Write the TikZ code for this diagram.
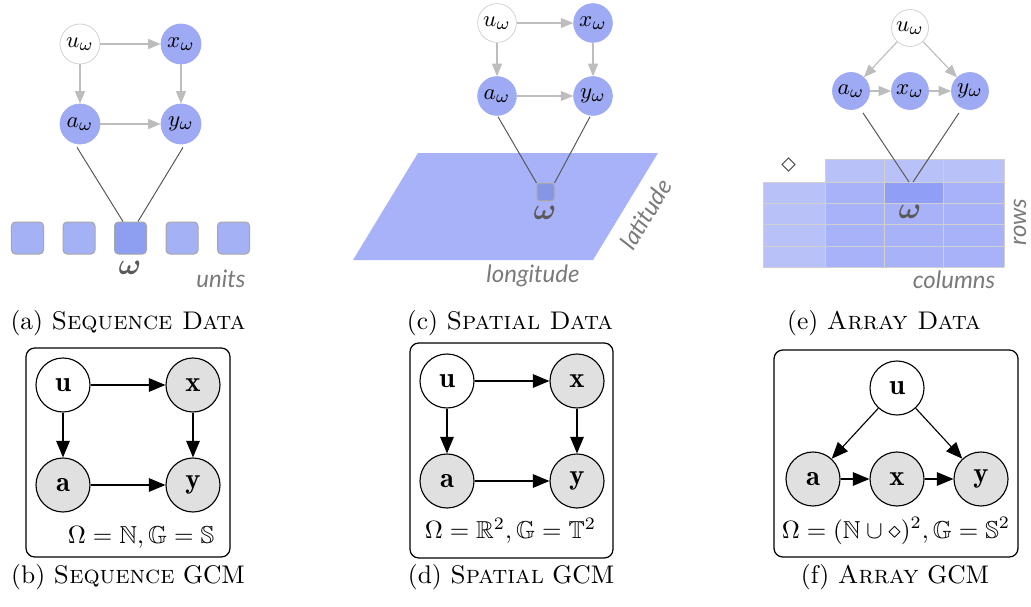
\documentclass[tikz,border=0pt]{standalone}
\usepackage{amsmath,amssymb,bm}
\usepackage{fontspec}
\newfontfamily\lblfont{Lato}
\usetikzlibrary{arrows.meta}
\definecolor{nblue}{HTML}{9EAAF3}
\definecolor{sqblue}{HTML}{A5B1F5}
\definecolor{sqdark}{HTML}{8E9EF0}
\definecolor{plane}{HTML}{A7B2F8}
\definecolor{light}{HTML}{B9C2F8}
\definecolor{cellhi}{HTML}{909FF5}
\definecolor{gline}{HTML}{D0D0D0}
\definecolor{arrgray}{HTML}{BDBDBD}
\definecolor{obsgray}{HTML}{E0E0E0}
\definecolor{lblgray}{HTML}{7A7A7A}
\begin{document}
\begin{tikzpicture}[x=0.4pt,y=-0.4pt,
  topnode/.style={circle, inner sep=0pt, minimum size=16pt, fill=nblue, draw=nblue, line width=0.3pt, font=\fontsize{9.5}{10}\selectfont},
  topwhite/.style={topnode, fill=white, draw=gline},
  toparr/.style={draw=arrgray, line width=0.45pt, -{Triangle[length=5pt,width=4pt]}},
  tie/.style={draw=black!65, line width=0.4pt},
  sq/.style={rectangle, rounded corners=1.6pt, minimum size=12.8pt, inner sep=0pt, fill=sqblue, draw=black!35, line width=0.4pt},
  omg/.style={text=black!65, font=\fontsize{12}{13}\selectfont},
  axlbl/.style={text=lblgray, font=\lblfont\itshape\fontsize{9.6}{11}\selectfont},
  gcm/.style={circle, inner sep=0pt, minimum size=21.6pt, draw=black, line width=0.45pt, fill=white, font=\fontsize{11.5}{12}\selectfont},
  obs/.style={gcm, fill=obsgray},
  garr/.style={draw=black, line width=0.45pt, -{Triangle[length=6.6pt,width=5.4pt]}},
  frame/.style={draw=black, line width=0.5pt, rounded corners=3.5pt},
  captxt/.style={font=\fontsize{10.2}{11}\selectfont},
  eqtxt/.style={font=\fontsize{9.8}{11}\selectfont}
]
\useasboundingbox (0,0) rectangle (1031,606);

% ---------------- (a) Sequence data ----------------
\node[topwhite] (ua) at (80,44) {$u_\omega$};
\node[topnode] (xa) at (181,44) {$x_\omega$};
\node[topnode] (aa) at (80,124) {$a_\omega$};
\node[topnode] (ya) at (181,124) {$y_\omega$};
\draw[toparr] (ua) -- (xa);
\draw[toparr] (ua) -- (aa);
\draw[toparr] (xa) -- (ya);
\draw[toparr] (aa) -- (ya);
\node[sq] (s1) at (27.5,238) {};
\node[sq] (s2) at (79,238) {};
\node[sq, fill=sqdark] (s3) at (130.5,238) {};
\node[sq] (s4) at (182,238) {};
\node[sq] (s5) at (233.5,238) {};
\draw[tie] ([shift={(-3,3)}]aa.south) -- ([xshift=-3pt]s3.north);
\draw[tie] ([shift={(2,3)}]ya.south) -- ([xshift=3pt]s3.north);
\node[omg] (wa) at (130,268) {$\bm{\omega}$};
\node[axlbl] (units) at (221,279) {units};
\node[captxt] (capa) at (128,323) {(a) \textsc{Sequence Data}};

% ---------------- (c) Spatial data ----------------
\fill[plane] (418,153) -- (658,153) -- (593,260) -- (353,260) -- cycle;
\node[topwhite, minimum size=15.5pt] (uc) at (497,23) {$u_\omega$};
\node[topnode, minimum size=15.5pt] (xc) at (593,23) {$x_\omega$};
\node[topnode, minimum size=15.5pt] (ac) at (497,96) {$a_\omega$};
\node[topnode, minimum size=15.5pt] (yc) at (593,96) {$y_\omega$};
\draw[toparr] (uc) -- (xc);
\draw[toparr] (uc) -- (ac);
\draw[toparr] (xc) -- (yc);
\draw[toparr] (ac) -- (yc);
\node[sq, minimum size=6.8pt, rounded corners=1pt, fill=sqdark!95!black] (sc) at (545.5,192) {};
\draw[tie] ([shift={(1,1)}]ac.south) -- (sc.north west);
\draw[tie] ([shift={(-3,1)}]yc.south) -- (sc.north east);
\node[omg] (wc) at (545,213) {$\bm{\omega}$};
\node[axlbl] (lon) at (533,276) {longitude};
\node[axlbl, rotate=59, inner sep=0pt] (lat) at (646,214) {latitude};
\node[captxt] (capc) at (510,323) {(c) \textsc{Spatial Data}};

% ---------------- (e) Array data ----------------
\fill[light] (825,159) rectangle (1004,182);
\fill[light] (763,182) rectangle (825,267);
\fill[plane] (825,182) rectangle (1004,267);
\fill[cellhi] (884,182) rectangle (943,203);
\begin{scope}[draw=gline, line width=0.35pt]
  \draw (825,159) -- (1004,159);
  \draw (763,182) -- (1004,182);
  \draw (763,203) -- (1004,203);
  \draw (763,224) -- (1004,224);
  \draw (763,246) -- (1004,246);
  \draw (763,267) -- (1004,267);
  \draw (763,182) -- (763,267);
  \draw (825,159) -- (825,267);
  \draw (884,159) -- (884,267);
  \draw (943,159) -- (943,267);
  \draw (1004,159) -- (1004,267);
\end{scope}
\node[text=black!70, font=\fontsize{12}{13}\selectfont] (dia) at (789,166) {$\diamond$};
\node[topwhite, minimum size=14.8pt] (ue) at (910,28) {$u_\omega$};
\node[topnode, minimum size=14.8pt] (ae) at (851,91) {$a_\omega$};
\node[topnode, minimum size=14.8pt] (xe) at (910,91) {$x_\omega$};
\node[topnode, minimum size=14.8pt] (ye) at (970,91) {$y_\omega$};
\draw[toparr] (ue) -- (ae);
\draw[toparr] (ue) -- (ye);
\draw[toparr] (ae) -- (xe);
\draw[toparr] (xe) -- (ye);
\coordinate (ce1) at (909,182);
\coordinate (ce2) at (913,182);
\draw[tie] ([shift={(12,3)}]ae.south) -- (ce1);
\draw[tie] ([shift={(-11,3)}]ye.south) -- (ce2);
\node[omg] (we) at (910,212) {$\bm{\omega}$};
\node[axlbl, rotate=90, inner sep=0pt] (rows) at (1020,222) {rows};
\node[axlbl] (cols) at (954,280) {columns};
\node[captxt] (cape) at (884,323) {(e) \textsc{Array Data}};

% ---------------- (b) Sequence GCM ----------------
\draw[frame] (26,348) rectangle (230,557);
\node[gcm] (ub) at (63,385) {$\mathbf{u}$};
\node[obs] (xb) at (193,385) {$\mathbf{x}$};
\node[obs] (ab) at (63,485) {$\mathbf{a}$};
\node[obs] (yb) at (193,485) {$\mathbf{y}$};
\draw[garr] (ub) -- (xb);
\draw[garr] (ub) -- (ab);
\draw[garr] (xb) -- (yb);
\draw[garr] (ab) -- (yb);
\node[eqtxt, anchor=east] (eqb) at (223,537) {$\Omega=\mathbb{N},\mathbb{G}=\mathbb{S}$};
\node[captxt] (capb) at (128,577) {(b) \textsc{Sequence} GCM};

% ---------------- (d) Spatial GCM ----------------
\draw[frame] (410,343) rectangle (613,558);
\node[gcm] (ud) at (447,381) {$\mathbf{u}$};
\node[obs] (xd) at (577,381) {$\mathbf{x}$};
\node[obs] (ad) at (447,481) {$\mathbf{a}$};
\node[obs] (yd) at (577,481) {$\mathbf{y}$};
\draw[garr] (ud) -- (xd);
\draw[garr] (ud) -- (ad);
\draw[garr] (xd) -- (yd);
\draw[garr] (ad) -- (yd);
\node[eqtxt, anchor=east] (eqd) at (605,531) {$\Omega=\mathbb{R}^2,\mathbb{G}=\mathbb{T}^2$};
\node[captxt] (capd) at (511,577) {(d) \textsc{Spatial} GCM};

% ---------------- (f) Array GCM ----------------
\draw[frame] (774,350) rectangle (1018,557);
\node[gcm] (uf) at (897,388) {$\mathbf{u}$};
\node[obs] (af) at (813,479) {$\mathbf{a}$};
\node[obs] (xf) at (897,479) {$\mathbf{x}$};
\node[obs] (yf) at (981,479) {$\mathbf{y}$};
\draw[garr] (uf) -- (af);
\draw[garr] (uf) -- (yf);
\draw[garr] (af) -- (xf);
\draw[garr] (xf) -- (yf);
\node[eqtxt] (eqf) at (896,531) {$\Omega=(\mathbb{N}\cup\diamond)^2,\mathbb{G}=\mathbb{S}^2$};
\node[captxt] (capf) at (895,577) {(f) \textsc{Array} GCM};
\end{tikzpicture}
\end{document}
